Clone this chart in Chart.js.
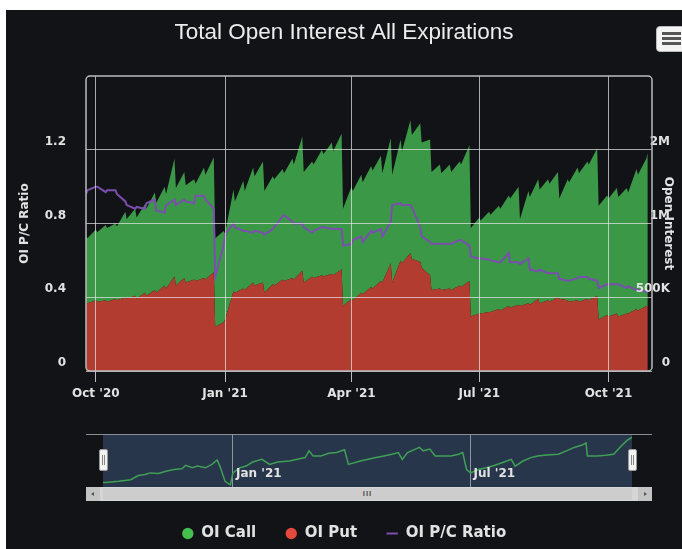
<!DOCTYPE html>
<html>
<head>
<meta charset="utf-8">
<script src="https://cdn.jsdelivr.net/npm/chart.js@4.4.1/dist/chart.umd.min.js"></script>
<style>
  html, body { margin: 0; padding: 0; background: #fff; overflow: hidden; }
  #wrap { position: absolute; left: 6px; top: 10px; width: 676px; height: 539px; background: #111317; overflow: hidden; }
  #main { position: absolute; left: 0; top: 0; }
  #navLine { position: absolute; left: 80px; top: 424px; width: 566px; height: 1px; background: #8a8f96; }
  #nav { position: absolute; left: 97px; top: 425px; background: #28364b; }
  .handle { position: absolute; top: 439px; width: 7px; height: 20px; background: #f2f2f2; border: 1px solid #9a9a9a; border-radius: 2px; }
  .handle::before { content: ''; position: absolute; left: 2px; top: 5px; width: 1px; height: 10px; background: #888; }
  .handle::after { content: ''; position: absolute; left: 4px; top: 5px; width: 1px; height: 10px; background: #888; }
  #scroll { position: absolute; left: 80px; top: 477px; width: 566px; height: 14px; background: #d6d6d6; }
  .sbtn { position: absolute; top: 0; width: 14px; height: 14px; background: #c4c4c4; }
  #thumb { position: absolute; left: 17px; top: 1px; width: 529px; height: 12px; background: #cdcdcd; font: bold 8px 'Liberation Sans', Arial, sans-serif; color: #555; text-align: center; line-height: 12px; letter-spacing: 1px; }
  #menu { position: absolute; left: 650px; top: 16px; width: 30px; height: 24px; background: #f4f4f4; border: 1px solid #bbb; border-radius: 4px; }
  #menu span { position: absolute; left: 5px; width: 19px; height: 3px; background: #555; }
</style>
</head>
<body>
<div id="wrap">
  <canvas id="main" width="676" height="539"></canvas>
  <div id="navLine"></div>
  <canvas id="nav" width="529" height="52"></canvas>
  <div class="handle" style="left:93px"></div>
  <div class="handle" style="left:622px"></div>
  <div id="scroll">
    <div class="sbtn" style="left:0"><svg width="14" height="14"><path d="M8 5 L5 7 L8 9 Z" fill="#555"/></svg></div>
    <div id="thumb">III</div>
    <div class="sbtn" style="right:0"><svg width="14" height="14"><path d="M6 5 L9 7 L6 9 Z" fill="#555"/></svg></div>
  </div>
  <div id="menu"><span style="top:5px"></span><span style="top:10px"></span><span style="top:15px"></span></div>
</div>
<script>
// days counted from 1 Oct 2020; Thursday / Friday (expiry) pairs
const days = [-7,-6,0,1,7,8,14,15,21,22,28,29,35,36,42,43,49,50,56,57,63,64,70,71,77,78,84,85,
  91,92,98,99,105,106,112,113,119,120,126,127,133,134,140,141,147,148,154,155,161,162,168,169,175,176,
  182,183,189,190,196,197,203,204,210,211,217,218,224,225,231,232,238,239,245,246,252,253,259,260,266,267,
  273,274,280,281,287,288,294,295,301,302,308,309,315,316,322,323,329,330,336,337,343,344,350,351,357,358,
  364,365,371,372,378,379,385,386,392,393];

// open interest, thousands of contracts
const putOI = [470,460,480,470,480,470,490,480,500,490,510,490,530,510,550,530,580,560,640,580,630,600,620,610,630,620,670,300,
  330,350,540,530,560,550,600,580,600,530,590,580,620,610,630,620,680,600,640,630,650,640,660,650,690,440,
  490,480,530,520,570,560,610,600,730,600,750,730,800,760,740,700,650,550,560,550,560,550,580,570,610,370,
  390,390,400,400,420,410,440,430,450,440,460,450,490,460,480,470,500,490,480,470,480,470,490,480,510,350,
  380,370,390,370,390,390,420,410,440,440];

const callOI = [450,440,480,470,510,500,510,500,580,540,590,550,600,590,660,610,670,640,800,660,720,660,680,660,750,710,780,600,
  620,580,690,620,730,670,780,740,820,690,730,720,750,730,810,780,910,750,780,770,850,830,890,840,920,660,
  760,740,800,760,820,800,850,740,850,730,820,760,900,840,940,850,920,800,840,790,840,800,840,830,920,600,
  650,630,680,660,700,690,750,740,800,590,760,730,810,770,820,800,850,680,820,810,900,870,930,920,1000,770,
  810,800,850,810,850,820,950,920,1000,1040];

const pcRatio = [0.96,0.98,1.00,1.00,0.97,0.98,0.98,0.96,0.92,0.90,0.88,0.89,0.88,0.91,0.93,0.87,0.86,0.90,0.93,0.90,0.93,0.92,0.91,0.95,0.95,0.93,0.88,0.51,
  0.68,0.74,0.80,0.78,0.76,0.76,0.75,0.76,0.75,0.74,0.77,0.78,0.84,0.845,0.81,0.80,0.80,0.78,0.75,0.76,0.78,0.78,0.77,0.77,0.77,0.68,
  0.69,0.71,0.73,0.70,0.76,0.75,0.77,0.73,0.81,0.90,0.91,0.90,0.90,0.89,0.78,0.73,0.70,0.69,0.69,0.69,0.69,0.69,0.71,0.71,0.68,0.62,
  0.61,0.61,0.605,0.60,0.59,0.59,0.64,0.59,0.59,0.58,0.61,0.55,0.54,0.55,0.53,0.53,0.53,0.50,0.49,0.49,0.505,0.51,0.51,0.50,0.49,0.45,
  0.47,0.47,0.47,0.47,0.45,0.46,0.44,0.44,0.43,0.425];

// navigator series (as drawn in the small overview pane)
const navDays = [-7,-5,5,14,20,25,29,35,41,47,53,56,61,65,71,76,80,82,86,90,92,97,102,107,114,120,126,135,141,147,
  150,153,159,165,171,177,180,189,195,201,207,213,218,221,225,231,234,237,242,246,252,258,264,267,270,273,279,285,291,297,
  304,307,313,319,324,331,340,346,352,358,361,362,370,376,382,388,392,396];
const navOI = [942,942,961,991,1064,1082,1112,1100,1143,1173,1185,1246,1203,1234,1203,1264,1343,1234,961,900,1112,1203,1234,1307,1355,1264,1307,1325,1355,1386,
  1507,1416,1416,1464,1477,1525,1264,1325,1355,1386,1416,1446,1477,1355,1477,1537,1568,1507,1537,1416,1416,1416,1446,1477,1173,1112,1173,1203,1246,1295,
  1355,1234,1325,1386,1416,1434,1446,1507,1568,1610,1647,1416,1416,1428,1446,1598,1689,1750];

const xTickDays = [0, 92, 182, 273, 365];
const xTickLabels = ["Oct '20", "Jan '21", "Apr '21", "Jul '21", "Oct '21"];
const ratioTicks = [0, 0.4, 0.8, 1.2];
const ratioTickLabels = ['0', '0.4', '0.8', '1.2'];
const oiTicks = [0, 500, 1000, 1500];
const oiTickLabels = ['0', '500K', '1M', '2M'];
const navTickDays = [92, 273];
const navTickLabels = ["Jan '21", "Jul '21"];

Chart.defaults.font.family = "'DejaVu Sans', Verdana, sans-serif";
const labelColor = '#e2e2e2';
const gridColor = 'rgba(228,228,228,0.72)';
const legendColors = { 'OI Call': '#44c04e', 'OI Put': '#e5493b' };
const legendOrder = ['OI Call', 'OI Put', 'OI P/C Ratio'];

function points(values) {
  return days.map((d, i) => ({ x: d, y: values[i] }));
}

// rounded frame around the plot
const plotFrame = {
  id: 'plotFrame',
  afterDraw(chart) {
    const { ctx, chartArea: a } = chart;
    ctx.save();
    ctx.strokeStyle = '#b9bcc0';
    ctx.lineWidth = 1.5;
    ctx.beginPath();
    ctx.roundRect(a.left, a.top, a.right - a.left, a.bottom - a.top, 4);
    ctx.stroke();
    ctx.restore();
  }
};

new Chart(document.getElementById('main'), {
  type: 'line',
  data: {
    datasets: [
      { label: 'OI Put', data: points(putOI), yAxisID: 'yOI', backgroundColor: '#b23c30', borderWidth: 0, fill: 'origin', pointRadius: 0, tension: 0 },
      { label: 'OI Call', data: points(callOI), yAxisID: 'yOI', backgroundColor: '#3b9846', borderWidth: 0, fill: '-1', pointRadius: 0, tension: 0 },
      { label: 'OI P/C Ratio', data: points(pcRatio), yAxisID: 'yRatio', borderColor: '#7a4fae', borderWidth: 2, fill: false, pointRadius: 0, pointStyle: 'line', tension: 0, order: -1 }
    ]
  },
  options: {
    responsive: false,
    animation: false,
    layout: { padding: { left: 12, right: 12, top: 0, bottom: -2 } },
    plugins: {
      title: {
        display: true,
        text: 'Total Open Interest All Expirations',
        color: '#ececec',
        font: { family: "'Liberation Sans', Arial, sans-serif", size: 22.5, weight: 'normal' },
        padding: { top: 9.5, bottom: 29.5 }
      },
      legend: {
        position: 'bottom',
        labels: {
          usePointStyle: true,
          boxWidth: 12,
          boxHeight: 8,
          padding: 29,
          color: labelColor,
          font: { size: 15, weight: 'bold' },
          generateLabels(chart) {
            const items = Chart.defaults.plugins.legend.labels.generateLabels(chart);
            items.forEach(it => {
              if (legendColors[it.text]) {
                it.fillStyle = legendColors[it.text];
                it.strokeStyle = legendColors[it.text];
                it.pointStyle = 'circle';
              }
            });
            return items.sort((a, b) => legendOrder.indexOf(a.text) - legendOrder.indexOf(b.text));
          }
        }
      },
      tooltip: { enabled: false }
    },
    scales: {
      x: {
        type: 'linear',
        min: -7,
        max: 396,
        afterBuildTicks(s) { s.ticks = xTickDays.map(v => ({ value: v })); },
        afterFit(s) { s.height = 126; },
        ticks: {
          z: 1, autoSkip: false, maxRotation: 0, padding: 5,
          color: labelColor, font: { size: 12, weight: 'bold' },
          callback: (v, i) => xTickLabels[i]
        },
        grid: { z: 1, color: gridColor, tickLength: 11, tickColor: '#b9bcc0' },
        border: { display: false }
      },
      yRatio: {
        position: 'left',
        min: 0,
        max: 1.6,
        afterBuildTicks(s) { s.ticks = ratioTicks.map(v => ({ value: v })); },
        afterFit(s) { s.width = 68; },
        ticks: {
          z: 1, padding: 20, labelOffset: -8,
          color: labelColor, font: { size: 12, weight: 'bold' },
          callback: (v, i) => ratioTickLabels[i]
        },
        grid: { z: 1, color: gridColor, drawTicks: false },
        border: { display: false },
        title: { display: true, text: 'OI P/C Ratio', color: labelColor, font: { size: 12, weight: 'bold' }, padding: { top: 0 } }
      },
      yOI: {
        position: 'right',
        stacked: true,
        min: 0,
        max: 2000,
        afterBuildTicks(s) { s.ticks = oiTicks.map(v => ({ value: v })); },
        afterFit(s) { s.width = 18; },
        ticks: {
          z: 2, mirror: true, crossAlign: 'near', padding: 18, labelOffset: -8,
          color: labelColor, font: { size: 12, weight: 'bold' },
          callback: (v, i) => oiTickLabels[i]
        },
        grid: { display: false, drawTicks: false },
        border: { display: false },
        title: { display: true, text: 'Open Interest', color: labelColor, font: { size: 12, weight: 'bold' }, padding: { top: -5 } }
      }
    }
  },
  plugins: [plotFrame]
});

// month labels inside the navigator pane
const navLabels = {
  id: 'navLabels',
  afterDraw(chart) {
    const { ctx, scales: { x }, chartArea } = chart;
    ctx.save();
    ctx.font = "bold 12px 'DejaVu Sans', Verdana, sans-serif";
    ctx.fillStyle = labelColor;
    ctx.textBaseline = 'middle';
    navTickDays.forEach((d, i) => ctx.fillText(navTickLabels[i], x.getPixelForValue(d) + 3, chartArea.bottom - 13));
    ctx.restore();
  }
};

// navigator overview
new Chart(document.getElementById('nav'), {
  type: 'line',
  data: {
    datasets: [{ data: navDays.map((d, i) => ({ x: d, y: navOI[i] })), borderColor: '#3f9f55', borderWidth: 1.5, pointRadius: 0, fill: false, tension: 0 }]
  },
  options: {
    responsive: false,
    animation: false,
    layout: { padding: 0 },
    plugins: { legend: { display: false }, tooltip: { enabled: false } },
    scales: {
      x: {
        type: 'linear', min: -7, max: 396,
        afterBuildTicks(s) { s.ticks = navTickDays.map(v => ({ value: v })); },
        afterFit(s) { s.height = 0; },
        ticks: { display: false },
        grid: { color: '#8f96a0', drawTicks: false },
        border: { display: false }
      },
      y: { display: false, min: 860, max: 1790 }
    }
  },
  plugins: [navLabels]
});
</script>
</body>
</html>
